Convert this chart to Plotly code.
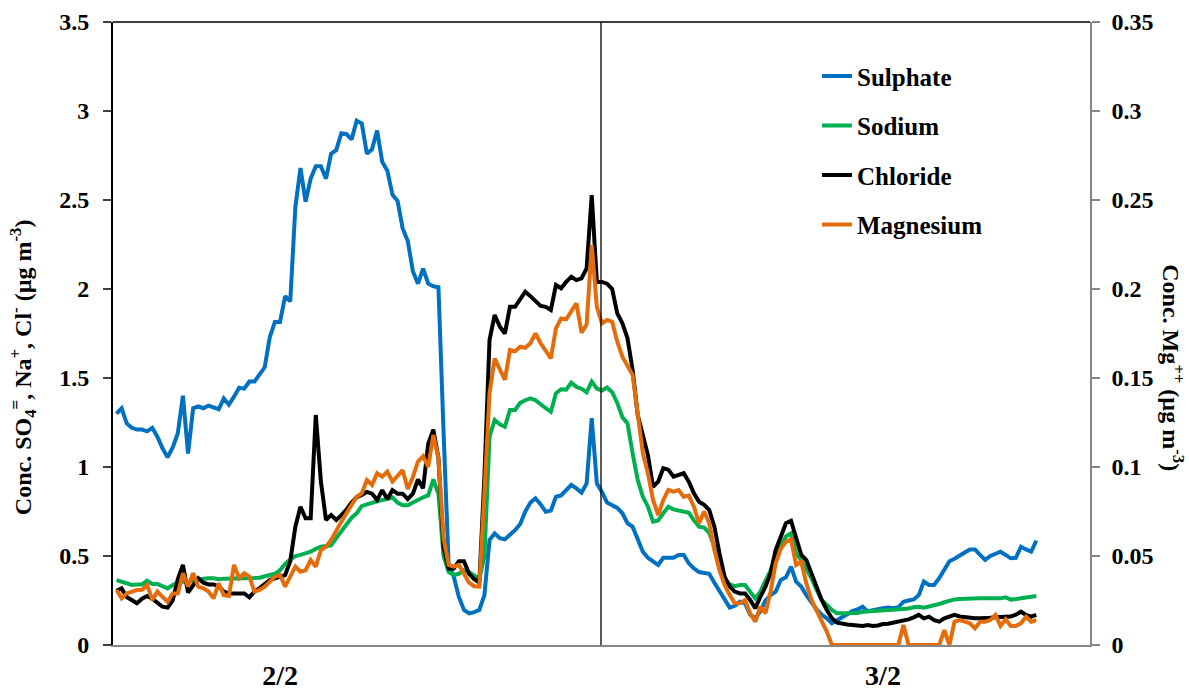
import plotly.graph_objects as go

# Concentrations at 15-minute steps over two days (2/2 and 3/2)
sulphate = [
    1.30, 1.33, 1.245, 1.22, 1.21, 1.21, 1.20, 1.22, 1.17, 1.105,
    1.055, 1.11, 1.19, 1.40, 1.075, 1.33, 1.34, 1.33, 1.345, 1.335,
    1.325, 1.385, 1.35, 1.395, 1.445, 1.44, 1.48, 1.48, 1.52, 1.56,
    1.73, 1.815, 1.815, 1.96, 1.93, 2.46, 2.68, 2.49, 2.62, 2.69,
    2.69, 2.62, 2.76, 2.78, 2.875, 2.87, 2.84, 2.945, 2.93, 2.76,
    2.785, 2.89, 2.715, 2.665, 2.53, 2.495, 2.34, 2.27, 2.10, 2.03,
    2.115, 2.03, 2.015, 2.01, 1.20, 0.45, 0.384, 0.27, 0.197, 0.178,
    0.185, 0.197, 0.28, 0.59, 0.627, 0.60, 0.594, 0.62, 0.645, 0.68,
    0.75, 0.80, 0.824, 0.79, 0.749, 0.755, 0.833, 0.84, 0.87, 0.90,
    0.88, 0.856, 0.908, 1.274, 0.908, 0.86, 0.80, 0.787, 0.77, 0.74,
    0.684, 0.665, 0.59, 0.524, 0.49, 0.47, 0.45, 0.49, 0.49, 0.49,
    0.506, 0.506, 0.459, 0.43, 0.41, 0.403, 0.40, 0.35, 0.30, 0.26,
    0.21, 0.22, 0.243, 0.234, 0.17, 0.15, 0.19, 0.25, 0.28, 0.30,
    0.365, 0.38, 0.44, 0.356, 0.328, 0.28, 0.24, 0.20, 0.17, 0.15,
    0.122, 0.14, 0.16, 0.178, 0.19, 0.20, 0.215, 0.19, 0.197, 0.20,
    0.206, 0.21, 0.206, 0.212, 0.243, 0.25, 0.256, 0.28, 0.356, 0.337,
    0.337, 0.375, 0.42, 0.47, 0.485, 0.505, 0.52, 0.537, 0.537, 0.506,
    0.478, 0.50, 0.51, 0.524, 0.506, 0.487, 0.49, 0.552, 0.537, 0.524,
    0.586,
]

sodium = [
    0.365, 0.356, 0.343, 0.337, 0.34, 0.34, 0.361, 0.343, 0.343, 0.331,
    0.318, 0.337, 0.35, 0.356, 0.35, 0.365, 0.37, 0.375, 0.375, 0.375,
    0.37, 0.372, 0.372, 0.372, 0.372, 0.372, 0.375, 0.376, 0.378, 0.384,
    0.39, 0.40, 0.42, 0.455, 0.48, 0.50, 0.506, 0.515, 0.524, 0.54,
    0.552, 0.556, 0.56, 0.60, 0.64, 0.68, 0.715, 0.74, 0.78, 0.79,
    0.80, 0.805, 0.815, 0.82, 0.83, 0.80, 0.785, 0.785, 0.80, 0.82,
    0.83, 0.84, 0.93, 0.85, 0.50, 0.41, 0.393, 0.40, 0.42, 0.41,
    0.39, 0.37, 0.50, 1.17, 1.264, 1.24, 1.226, 1.32, 1.32, 1.36,
    1.375, 1.386, 1.375, 1.35, 1.33, 1.31, 1.414, 1.437, 1.435, 1.474,
    1.45, 1.44, 1.42, 1.48, 1.44, 1.43, 1.447, 1.42, 1.36, 1.28,
    1.245, 1.077, 0.927, 0.833, 0.777, 0.693, 0.70, 0.74, 0.777, 0.762,
    0.755, 0.75, 0.743, 0.70, 0.665, 0.66, 0.63, 0.55, 0.43, 0.37,
    0.34, 0.33, 0.337, 0.337, 0.30, 0.262, 0.30, 0.365, 0.42, 0.50,
    0.56, 0.61, 0.627, 0.515, 0.477, 0.43, 0.375, 0.309, 0.253, 0.225,
    0.197, 0.178, 0.178, 0.178, 0.178, 0.18, 0.187, 0.19, 0.192, 0.193,
    0.195, 0.197, 0.198, 0.20, 0.20, 0.205, 0.212, 0.215, 0.21, 0.215,
    0.222, 0.23, 0.24, 0.248, 0.256, 0.258, 0.26, 0.26, 0.262, 0.262,
    0.262, 0.262, 0.262, 0.262, 0.268, 0.255, 0.258, 0.262, 0.266, 0.271,
    0.275,
]

chloride = [
    0.305, 0.318, 0.27, 0.25, 0.235, 0.26, 0.275, 0.26, 0.24, 0.215,
    0.21, 0.25, 0.37, 0.45, 0.295, 0.34, 0.375, 0.35, 0.34, 0.34,
    0.33, 0.30, 0.29, 0.29, 0.29, 0.29, 0.268, 0.30, 0.32, 0.345,
    0.365, 0.375, 0.384, 0.393, 0.47, 0.665, 0.777, 0.712, 0.712, 1.292,
    0.918, 0.702, 0.73, 0.702, 0.73, 0.76, 0.80, 0.83, 0.843, 0.86,
    0.85, 0.815, 0.87, 0.82, 0.87, 0.85, 0.85, 0.82, 0.85, 0.93,
    0.88, 1.13, 1.21, 1.05, 0.55, 0.43, 0.43, 0.47, 0.47, 0.40,
    0.37, 0.35, 0.95, 1.713, 1.854, 1.79, 1.75, 1.90, 1.90, 1.94,
    1.985, 1.96, 1.93, 1.905, 1.90, 1.882, 2.022, 2.004, 2.04, 2.069,
    2.05, 2.06, 2.116, 2.528, 2.04, 2.04, 2.03, 2.00, 1.863, 1.807,
    1.723, 1.545, 1.292, 1.17, 1.067, 0.889, 0.918, 0.993, 0.985, 0.946,
    0.955, 0.965, 0.918, 0.852, 0.805, 0.787, 0.758, 0.665, 0.515, 0.384,
    0.328, 0.30, 0.29, 0.29, 0.253, 0.206, 0.271, 0.328, 0.403, 0.534,
    0.608, 0.684, 0.698, 0.608, 0.506, 0.477, 0.403, 0.328, 0.253, 0.197,
    0.15, 0.125, 0.118, 0.115, 0.112, 0.107, 0.107, 0.112, 0.107, 0.11,
    0.118, 0.12, 0.125, 0.13, 0.137, 0.144, 0.155, 0.169, 0.15, 0.159,
    0.14, 0.131, 0.15, 0.16, 0.169, 0.16, 0.156, 0.152, 0.15, 0.15,
    0.15, 0.153, 0.156, 0.158, 0.159, 0.16, 0.17, 0.187, 0.169, 0.159,
    0.169,
]

# Magnesium is on the secondary axis (ug m-3)
magnesium = [
    0.0309, 0.0262, 0.029, 0.030, 0.0309, 0.031, 0.0337, 0.0253, 0.030, 0.027,
    0.0243, 0.029, 0.029, 0.0403, 0.0328, 0.0403, 0.0328, 0.0318, 0.030, 0.0262,
    0.0346, 0.028, 0.0275, 0.045, 0.0375, 0.0403, 0.0384, 0.030, 0.0309, 0.0328,
    0.036, 0.0384, 0.0393, 0.0328, 0.0384, 0.044, 0.0412, 0.042, 0.0477, 0.044,
    0.0534, 0.0552, 0.059, 0.0646, 0.0693, 0.074, 0.079, 0.0833, 0.0852, 0.0927,
    0.0899, 0.0965, 0.0946, 0.0974, 0.0918, 0.0953, 0.0982, 0.0876, 0.0944, 0.103,
    0.106, 0.100, 0.118, 0.105, 0.060, 0.045, 0.044, 0.045, 0.040, 0.035,
    0.033, 0.0328, 0.085, 0.1414, 0.161, 0.1554, 0.149, 0.1657, 0.165, 0.1676,
    0.167, 0.1695, 0.175, 0.1695, 0.1648, 0.161, 0.1779, 0.1835, 0.183, 0.1873,
    0.192, 0.1755, 0.180, 0.2247, 0.190, 0.1807, 0.1826, 0.1816, 0.1704, 0.162,
    0.1564, 0.1517, 0.130, 0.1077, 0.0965, 0.0815, 0.073, 0.0815, 0.0871, 0.0861,
    0.087, 0.0833, 0.084, 0.0777, 0.0684, 0.0749, 0.0684, 0.0534, 0.0421, 0.0337,
    0.0281, 0.0234, 0.0234, 0.0253, 0.0178, 0.0131, 0.0215, 0.0178, 0.030, 0.046,
    0.054, 0.058, 0.0594, 0.045, 0.0468, 0.0346, 0.0253, 0.0197, 0.014, 0.0075,
    0.0, 0.0, 0.0, 0.0, 0.0, 0.0, 0.0, 0.0, 0.0, 0.0,
    0.0, 0.0, 0.0, 0.0, 0.0112, 0.0, 0.0, 0.0, 0.0, 0.0,
    0.0, 0.0, 0.0084, 0.0, 0.0131, 0.014, 0.0131, 0.0122, 0.0094, 0.0131,
    0.0131, 0.014, 0.0169, 0.0107, 0.0144, 0.0107, 0.0107, 0.0122, 0.0159, 0.0131,
    0.014,
]

day_labels = ["2/2", "3/2"]
day_label_steps = [32, 150]

steps = list(range(len(sulphate)))

FONT = "Liberation Serif, Times New Roman, serif"
BLUE, GREEN, BLACK, ORANGE = "#0070C0", "#00B050", "#000000", "#E46C0A"
LW = 4

fig = go.Figure()
series = [
    ("Sulphate", sulphate, BLUE, "y"),
    ("Sodium", sodium, GREEN, "y"),
    ("Chloride", chloride, BLACK, "y"),
    ("Magnesium", magnesium, ORANGE, "y2"),
]
for name, vals, color, yax in series:
    fig.add_trace(go.Scatter(
        x=steps, y=vals, name=name, mode="lines", yaxis=yax,
        legendgroup=name,
        line=dict(color=color, width=LW, shape="linear"),
    ))

fig.update_layout(
    width=1189, height=691,
    margin=dict(l=113, r=99, t=22, b=46),
    paper_bgcolor="white", plot_bgcolor="white",
    font=dict(family=FONT, color="black"),
    showlegend=True,
    legend=dict(
        x=0.7206, y=0.950, xanchor="left", yanchor="top",
        bgcolor="rgba(0,0,0,0)", borderwidth=0,
        font=dict(family=FONT, size=25, weight="bold", color="black"),
        tracegroupgap=14, itemwidth=30,
    ),
    xaxis=dict(
        range=[-0.685, 190.51], showgrid=False, zeroline=False,
        showline=True, linecolor="#868686", linewidth=1.5,
        tickmode="array", tickvals=day_label_steps, ticktext=day_labels,
        ticks="", tickfont=dict(family=FONT, size=28, weight="bold", color="black"),
        ticklabelstandoff=5, automargin=False,
        fixedrange=True,
    ),
    yaxis=dict(
        range=[0, 3.5], dtick=0.5, tick0=0, showgrid=False, zeroline=False,
        showline=True, linecolor="black", linewidth=2,
        ticks="outside", ticklen=8, tickwidth=1.5, tickcolor="#404040",
        tickfont=dict(family=FONT, size=24, weight="bold", color="black"),
        ticklabelstandoff=9, automargin=False,
    ),
    yaxis2=dict(
        range=[0, 0.35], dtick=0.05, tick0=0, overlaying="y", side="right",
        showgrid=False, zeroline=False,
        showline=True, linecolor="#868686", linewidth=1.5,
        ticks="outside", ticklen=8, tickwidth=1.5, tickcolor="#868686",
        tickfont=dict(family=FONT, size=24, weight="bold", color="black"),
        ticklabelstandoff=7, automargin=False,
    ),
    shapes=[
        # top frame line
        dict(type="line", xref="paper", yref="paper", x0=0, x1=1, y0=1, y1=1,
             line=dict(color="black", width=1.5)),
        # day separator
        dict(type="line", xref="paper", yref="paper", x0=0.4995, x1=0.4995,
             y0=0, y1=1, line=dict(color="black", width=1.3)),
    ],
    annotations=[
        dict(text="Conc. SO<sub>4</sub><sup>=</sup>, Na<sup>+</sup>, Cl<sup>-</sup> (µg m<sup>-3</sup>)",
             xref="paper", yref="paper", x=-0.0921, y=0.446,
             xanchor="center", yanchor="middle", textangle=-90, showarrow=False,
             font=dict(family=FONT, size=24, weight="bold", color="black")),
        dict(text="Conc. Mg<sup>++</sup> (µg m<sup>-3</sup>)",
             xref="paper", yref="paper", x=1.0855, y=0.445,
             xanchor="center", yanchor="middle", textangle=90, showarrow=False,
             font=dict(family=FONT, size=24, weight="bold", color="black")),
    ],
)

fig.write_html("out.html")
